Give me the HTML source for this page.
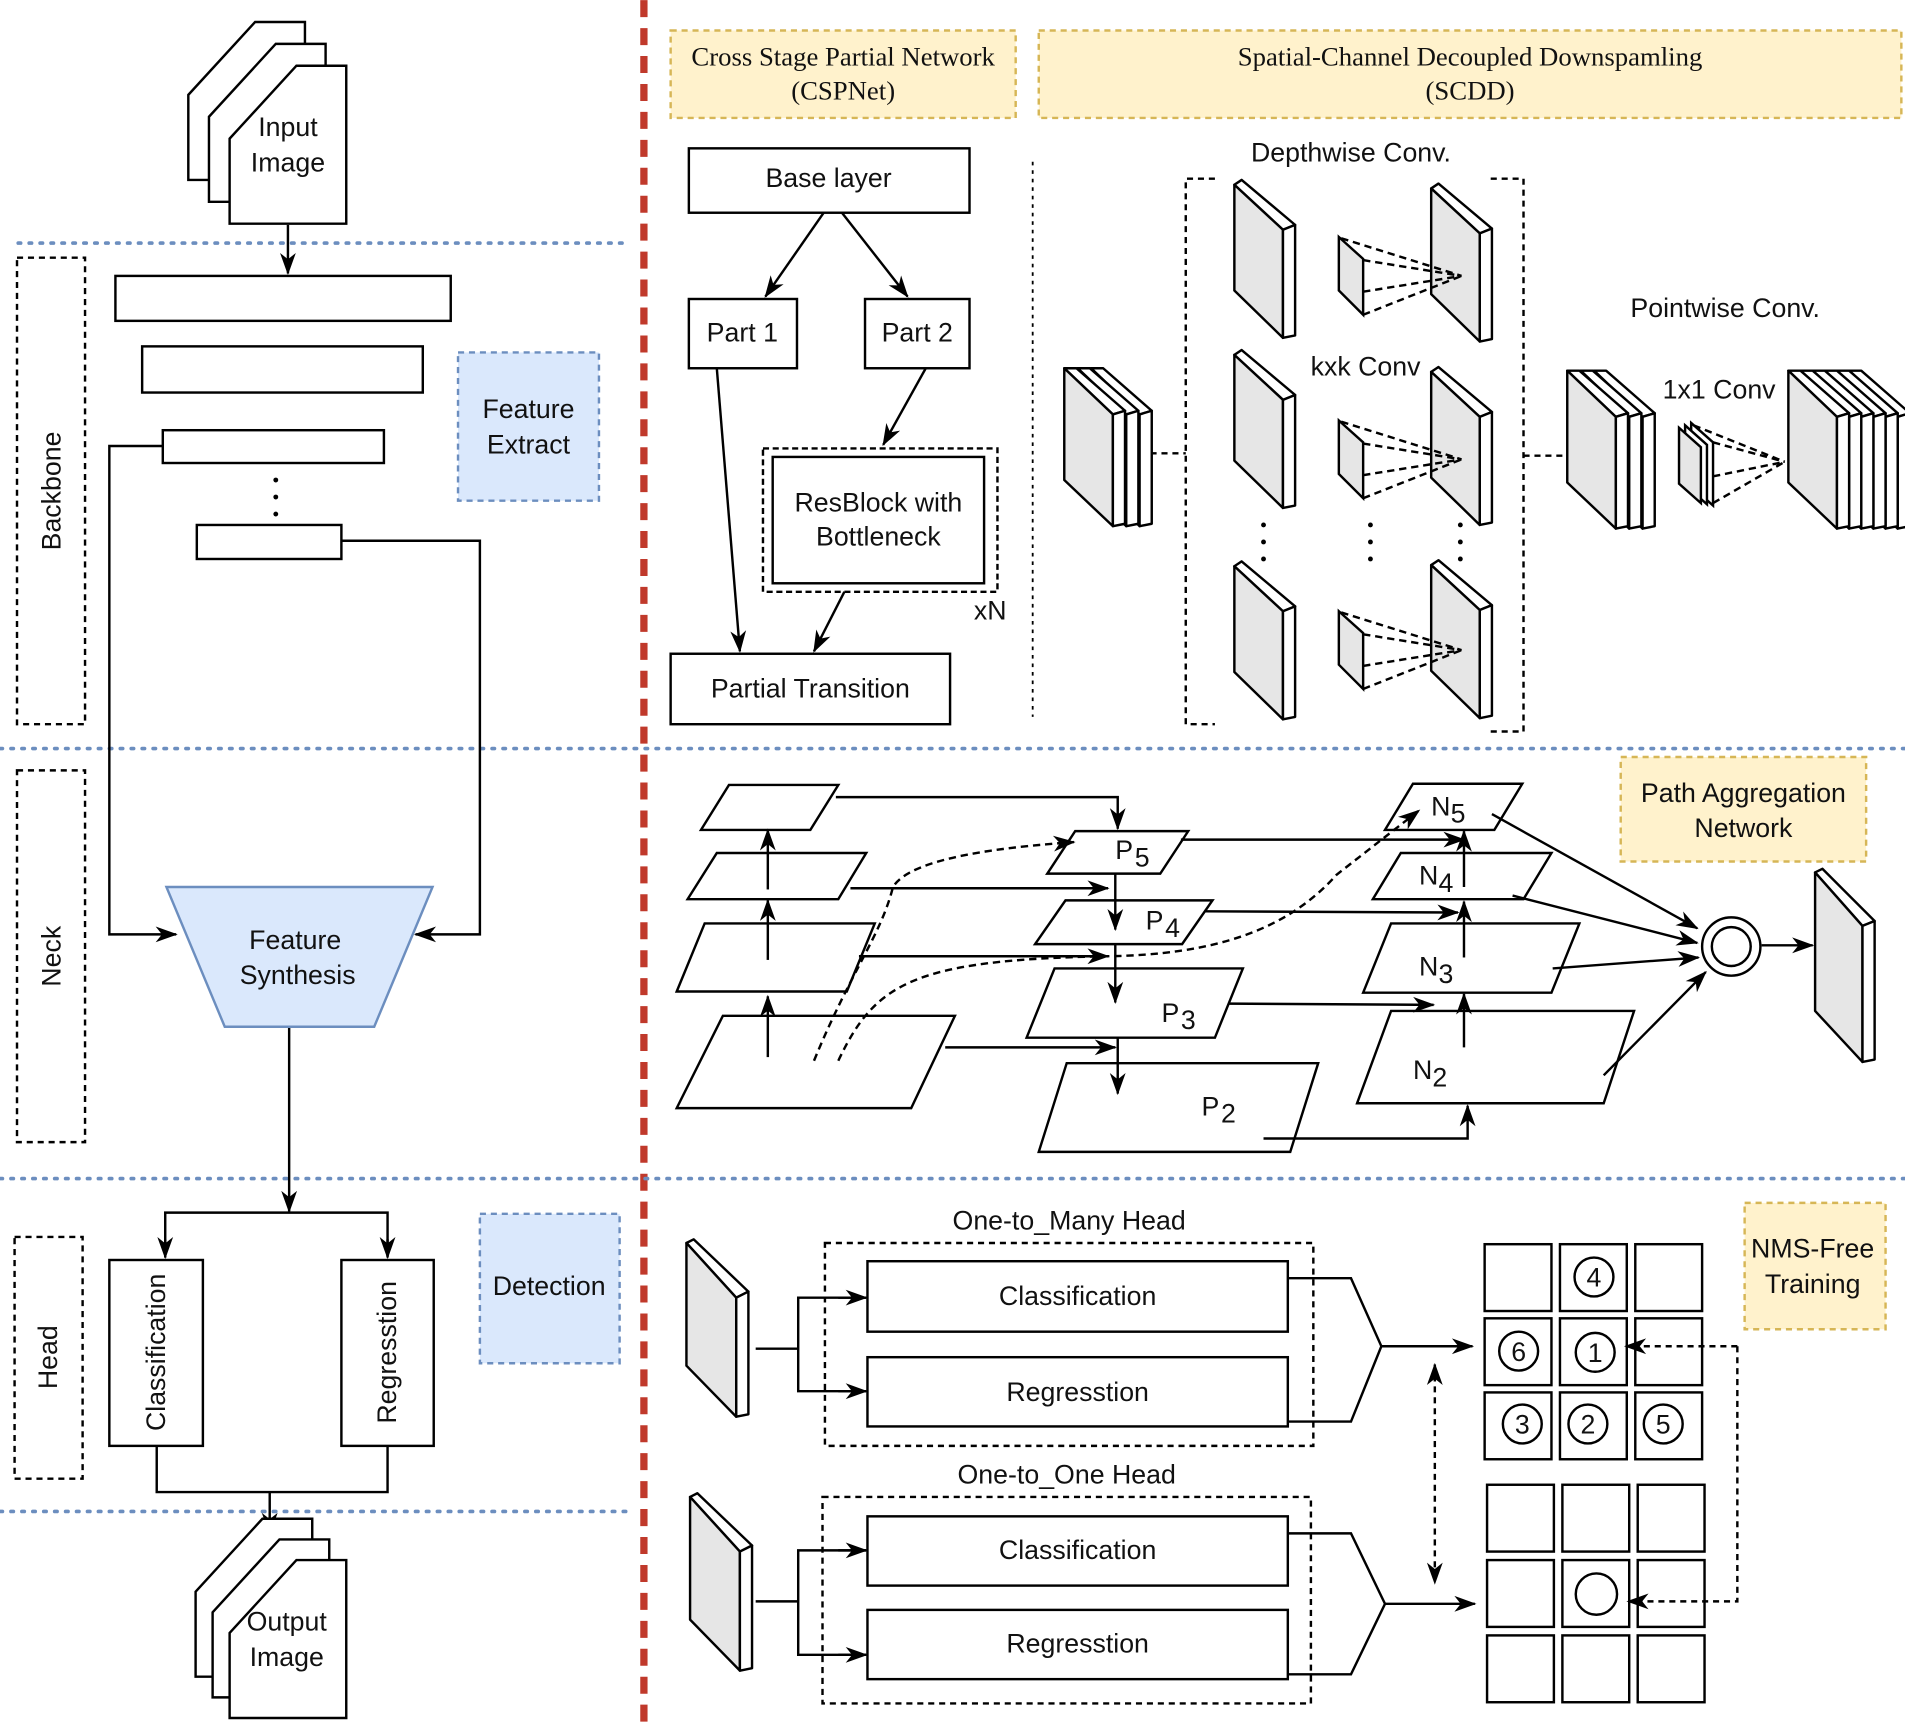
<!DOCTYPE html>
<html><head><meta charset="utf-8"><style>
html,body{margin:0;padding:0;background:#fff}
svg{display:block}
text{font-family:"Liberation Sans",Arial,sans-serif;font-size:22px;fill:#111}
.s{font-family:"Liberation Serif",serif;font-size:22px}
</style></head><body>
<svg width="1905" height="1723" viewBox="0 0 1568 1418" xmlns="http://www.w3.org/2000/svg">
<defs>
<marker id="a" viewBox="0 0 10 10" refX="9" refY="5" markerWidth="13" markerHeight="13" orient="auto" markerUnits="userSpaceOnUse" overflow="visible"><path d="M-4,0 L10,5 L-4,10 L0,5 z" fill="#000"/></marker>
<marker id="as" viewBox="0 0 10 10" refX="9" refY="5" markerWidth="13" markerHeight="13" orient="auto-start-reverse" markerUnits="userSpaceOnUse" overflow="visible"><path d="M-4,0 L10,5 L-4,10 L0,5 z" fill="#000"/></marker>
<g id="pl" stroke="#000" stroke-width="2" stroke-linejoin="round">
<polygon points="0,0 6,-4 50,33 40,37" fill="#fff"/>
<polygon points="0,0 40,37 40,126 0,87" fill="#e6e6e6"/>
<polygon points="40,37 50,33 50,124 40,126" fill="#fff"/>
</g>
<g id="plb" stroke="#000" stroke-width="2" stroke-linejoin="round">
<polygon points="0,0 10,0 50,35 40,38" fill="#fff"/>
<polygon points="0,0 40,38 40,130 0,92" fill="#e6e6e6"/>
<polygon points="40,38 50,35 50,128 40,130" fill="#fff"/>
</g>
<g id="page" stroke="#000" stroke-width="2" fill="#fff"><polygon points="0,60 55,0 96,0 96,130 0,130"/></g>
</defs>

<line x1="530" y1="0" x2="530" y2="1418" stroke="#c0392b" stroke-width="6" stroke-dasharray="14,9"/>
<g stroke="#6c8ebf" stroke-width="3" stroke-dasharray="2,7" stroke-linecap="round">
<line x1="15" y1="200" x2="515" y2="200"/>
<line x1="0" y1="616" x2="1568" y2="616"/>
<line x1="0" y1="970" x2="1568" y2="970"/>
<line x1="0" y1="1244" x2="515" y2="1244"/>
</g>

<use href="#page" x="155" y="18"/><use href="#page" x="172" y="36"/><use href="#page" x="189" y="54"/>
<text x="237" y="112" text-anchor="middle">Input</text><text x="237" y="141" text-anchor="middle">Image</text>
<g fill="none" stroke="#000" stroke-width="2">
<line x1="237" y1="185" x2="237" y2="225" marker-end="url(#a)"/>
<rect x="95" y="227" width="276" height="37" fill="#fff"/>
<rect x="117" y="285" width="231" height="38" fill="#fff"/>
<rect x="134" y="354" width="182" height="27" fill="#fff"/>
<rect x="162" y="432" width="119" height="28" fill="#fff"/>
<polyline points="134,367 90,367 90,769 145,769" marker-end="url(#a)"/>
<polyline points="281,445 395,445 395,769 342,769" marker-end="url(#a)"/>
<line x1="238" y1="845" x2="238" y2="997" marker-end="url(#a)"/>
<polyline points="136,1034 136,998 319,998 319,1034"/>
<line x1="136" y1="1020" x2="136" y2="1035" marker-end="url(#a)"/>
<line x1="319" y1="1020" x2="319" y2="1035" marker-end="url(#a)"/>
<rect x="90" y="1037" width="77" height="153" fill="#fff"/>
<rect x="281" y="1037" width="76" height="153" fill="#fff"/>
<polyline points="129,1190 129,1228 319,1228 319,1190"/>
<line x1="222" y1="1228" x2="222" y2="1262" marker-end="url(#a)"/>
</g>
<g fill="#000"><circle cx="227" cy="395" r="2"/><circle cx="227" cy="409" r="2"/><circle cx="227" cy="423" r="2"/></g>
<g fill="none" stroke="#000" stroke-width="2" stroke-dasharray="5,4">
<rect x="14" y="212" width="56" height="384"/>
<rect x="14" y="634" width="56" height="306"/>
<rect x="12" y="1018" width="56" height="199"/>
</g>
<text transform="translate(50,404) rotate(-90)" text-anchor="middle">Backbone</text>
<text transform="translate(50,787) rotate(-90)" text-anchor="middle">Neck</text>
<text transform="translate(47,1117) rotate(-90)" text-anchor="middle">Head</text>
<rect x="377" y="290" width="116" height="122" fill="#dae8fc" stroke="#6c8ebf" stroke-width="2" stroke-dasharray="5,4"/>
<text x="435" y="344" text-anchor="middle">Feature</text><text x="435" y="373" text-anchor="middle">Extract</text>
<polygon points="137,730 356,730 308,845 185,845" fill="#dae8fc" stroke="#6c8ebf" stroke-width="2"/>
<text x="243" y="781" text-anchor="middle">Feature</text><text x="245" y="810" text-anchor="middle">Synthesis</text>
<rect x="395" y="999" width="115" height="123" fill="#dae8fc" stroke="#6c8ebf" stroke-width="2" stroke-dasharray="5,4"/>
<text x="452" y="1066" text-anchor="middle">Detection</text>
<text transform="translate(136,1113) rotate(-90)" text-anchor="middle">Classification</text>
<text transform="translate(326,1113) rotate(-90)" text-anchor="middle">Regresstion</text>
<use href="#page" x="161" y="1250"/><use href="#page" x="175" y="1267"/><use href="#page" x="189" y="1284"/>
<text x="236" y="1342" text-anchor="middle">Output</text><text x="236" y="1371" text-anchor="middle">Image</text>

<rect x="552" y="25" width="284" height="72" fill="#fff2cc" stroke="#d6b656" stroke-width="2" stroke-dasharray="5,4"/>
<text class="s" x="694" y="54" text-anchor="middle">Cross Stage Partial Network</text>
<text class="s" x="694" y="82" text-anchor="middle">(CSPNet)</text>
<rect x="855" y="25" width="710" height="72" fill="#fff2cc" stroke="#d6b656" stroke-width="2" stroke-dasharray="5,4"/>
<text class="s" x="1210" y="54" text-anchor="middle">Spatial-Channel Decoupled Downspamling</text>
<text class="s" x="1210" y="82" text-anchor="middle">(SCDD)</text>
<g fill="none" stroke="#000" stroke-width="2">
<rect x="567" y="122" width="231" height="53"/>
<rect x="567" y="246" width="89" height="57"/>
<rect x="712" y="246" width="86" height="57"/>
<line x1="678" y1="175" x2="630" y2="244" marker-end="url(#a)"/>
<line x1="693" y1="175" x2="747" y2="244" marker-end="url(#a)"/>
<line x1="762" y1="303" x2="727" y2="366" marker-end="url(#a)"/>
<rect x="628" y="369" width="193" height="118" stroke-dasharray="5,3"/>
<rect x="636" y="376" width="174" height="104"/>
<line x1="590" y1="303" x2="609" y2="536" marker-end="url(#a)"/>
<line x1="695" y1="487" x2="670" y2="536" marker-end="url(#a)"/>
<rect x="552" y="538" width="230" height="58"/>
</g>
<text x="682" y="154" text-anchor="middle">Base layer</text>
<text x="611" y="281" text-anchor="middle">Part 1</text>
<text x="755" y="281" text-anchor="middle">Part 2</text>
<text x="723" y="421" text-anchor="middle">ResBlock with</text>
<text x="723" y="449" text-anchor="middle">Bottleneck</text>
<text x="815" y="510" text-anchor="middle">xN</text>
<text x="667" y="574" text-anchor="middle">Partial Transition</text>
<line x1="850" y1="133" x2="850" y2="590" stroke="#000" stroke-width="1.5" stroke-dasharray="3,4"/>

<text x="1112" y="133" text-anchor="middle">Depthwise Conv.</text>
<g fill="none" stroke="#000" stroke-width="2" stroke-dasharray="5,4">
<polyline points="1000,147 976,147 976,596 1000,596"/>
<polyline points="1227,147 1254,147 1254,602 1227,602"/>
<line x1="947" y1="373" x2="976" y2="373"/>
<line x1="1254" y1="375" x2="1287" y2="375"/>
</g>
<use href="#plb" x="898" y="303"/><use href="#plb" x="887" y="303"/><use href="#plb" x="876" y="303"/>
<use href="#pl" x="1016" y="152"/><use href="#pl" x="1016" y="292"/><use href="#pl" x="1016" y="466"/>
<use href="#pl" x="1178" y="155"/><use href="#pl" x="1178" y="306"/><use href="#pl" x="1178" y="465"/>
<g stroke="#000" stroke-width="2" fill="#e6e6e6">
<polygon points="1102,195 1122,213 1122,259 1102,239"/>
<polygon points="1102,346 1122,364 1122,410 1102,390"/>
<polygon points="1102,503 1122,521 1122,567 1102,547"/>
</g>
<g stroke="#000" stroke-width="2" stroke-dasharray="6,4" fill="none">
<path d="M1104,196 L1203,227 M1122,214 L1203,227 M1122,240 L1203,227 M1122,259 L1203,227"/>
<path d="M1104,347 L1203,378 M1122,365 L1203,378 M1122,391 L1203,378 M1122,410 L1203,378"/>
<path d="M1104,504 L1203,535 M1122,522 L1203,535 M1122,548 L1203,535 M1122,567 L1203,535"/>
</g>
<g fill="#000">
<circle cx="1040" cy="432" r="2"/><circle cx="1040" cy="446" r="2"/><circle cx="1040" cy="460" r="2"/>
<circle cx="1128" cy="432" r="2"/><circle cx="1128" cy="446" r="2"/><circle cx="1128" cy="460" r="2"/>
<circle cx="1202" cy="432" r="2"/><circle cx="1202" cy="446" r="2"/><circle cx="1202" cy="460" r="2"/>
</g>
<text x="1124" y="309" text-anchor="middle">kxk Conv</text>
<text x="1420" y="261" text-anchor="middle">Pointwise Conv.</text>
<text x="1415" y="328" text-anchor="middle">1x1 Conv</text>
<use href="#plb" x="1312" y="305"/><use href="#plb" x="1301" y="305"/><use href="#plb" x="1290" y="305"/>
<g stroke="#000" stroke-width="2" fill="#e6e6e6">
<polygon points="1392,348 1410,364 1410,416 1392,400" fill="#fff"/>
<polygon points="1387,350 1405,366 1405,415 1387,399" fill="#fff"/>
<polygon points="1382,352 1400,368 1400,414 1382,398"/>
</g>
<g stroke="#000" stroke-width="2" stroke-dasharray="6,4" fill="none">
<path d="M1394,350 L1469,380 M1410,364 L1469,380 M1410,392 L1469,380 M1410,414 L1469,380"/>
</g>
<use href="#plb" x="1522" y="305"/><use href="#plb" x="1512" y="305"/><use href="#plb" x="1502" y="305"/><use href="#plb" x="1492" y="305"/><use href="#plb" x="1482" y="305"/><use href="#plb" x="1472" y="305"/>

<g fill="#fff" stroke="#000" stroke-width="2">
<polygon points="577,683 600,646 690,646 667,683"/>
<polygon points="566,740 590,702 713,702 690,740"/>
<polygon points="557,816 580,760 720,760 697,816"/>
<polygon points="557,912 595,836 786,836 750,912"/>
<polygon points="862,719 885,684 978,684 955,719"/>
<polygon points="852,777 877,741 998,741 973,777"/>
<polygon points="845,854 868,797 1023,797 1000,854"/>
<polygon points="855,948 878,875 1085,875 1062,948"/>
<polygon points="1140,683 1163,645 1253,645 1230,683"/>
<polygon points="1130,740 1153,702 1277,702 1254,740"/>
<polygon points="1122,817 1145,760 1300,760 1277,817"/>
<polygon points="1117,908 1145,832 1345,832 1320,908"/>
</g>
<g fill="none" stroke="#000" stroke-width="2">
<line x1="632" y1="870" x2="632" y2="820" marker-end="url(#a)"/>
<line x1="632" y1="790" x2="632" y2="741" marker-end="url(#a)"/>
<line x1="632" y1="732" x2="632" y2="683" marker-end="url(#a)"/>
<polyline points="688,656 920,656 920,682" marker-end="url(#a)"/>
<line x1="700" y1="731" x2="912" y2="731" marker-end="url(#a)"/>
<line x1="707" y1="787" x2="912" y2="787" marker-end="url(#a)"/>
<line x1="778" y1="862" x2="918" y2="862" marker-end="url(#a)"/>
<line x1="918" y1="719" x2="918" y2="765" marker-end="url(#a)"/>
<line x1="918" y1="777" x2="918" y2="825" marker-end="url(#a)"/>
<line x1="920" y1="854" x2="920" y2="900" marker-end="url(#a)"/>
<line x1="972" y1="691" x2="1205" y2="691" marker-end="url(#a)"/>
<line x1="992" y1="750" x2="1200" y2="751" marker-end="url(#a)"/>
<line x1="1012" y1="826" x2="1180" y2="827" marker-end="url(#a)"/>
<polyline points="1040,937 1208,937 1208,910" marker-end="url(#a)"/>
<line x1="1205" y1="862" x2="1205" y2="818" marker-end="url(#a)"/>
<line x1="1205" y1="788" x2="1205" y2="742" marker-end="url(#a)"/>
<line x1="1205" y1="730" x2="1205" y2="684" marker-end="url(#a)"/>
<line x1="1228" y1="670" x2="1397" y2="764" marker-end="url(#a)"/>
<line x1="1245" y1="737" x2="1397" y2="776" marker-end="url(#a)"/>
<line x1="1278" y1="797" x2="1398" y2="788" marker-end="url(#a)"/>
<line x1="1320" y1="885" x2="1404" y2="800" marker-end="url(#a)"/>
<line x1="1450" y1="778" x2="1492" y2="778" marker-end="url(#a)"/>
<circle cx="1425" cy="779" r="24"/><circle cx="1425" cy="779" r="16"/>
</g>
<g fill="none" stroke="#000" stroke-width="2" stroke-dasharray="6,4">
<path d="M670,873 C700,800 725,770 735,730 C750,705 830,697 884,693" marker-end="url(#a)"/>
<path d="M690,873 C720,810 750,790 910,787 C1000,786 1060,765 1100,720 L1168,667" marker-end="url(#a)"/>
</g>
<text x="918" y="707">P</text><text x="934" y="713" font-size="14">5</text>
<text x="943" y="765">P</text><text x="959" y="771" font-size="14">4</text>
<text x="956" y="841">P</text><text x="972" y="847" font-size="14">3</text>
<text x="989" y="918">P</text><text x="1005" y="924" font-size="14">2</text>
<text x="1178" y="671">N</text><text x="1194" y="677" font-size="14">5</text>
<text x="1168" y="728">N</text><text x="1184" y="734" font-size="14">4</text>
<text x="1168" y="803">N</text><text x="1184" y="809" font-size="14">3</text>
<text x="1163" y="888">N</text><text x="1179" y="894" font-size="14">2</text>
<g stroke="#000" stroke-width="2" stroke-linejoin="round">
<polygon points="1494,718 1500,715 1543,758 1533,762" fill="#fff"/>
<polygon points="1494,718 1533,762 1533,874 1494,832" fill="#e6e6e6"/>
<polygon points="1533,762 1543,758 1543,872 1533,874" fill="#fff"/>
</g>
<rect x="1334" y="623" width="202" height="86" fill="#fff2cc" stroke="#d6b656" stroke-width="2" stroke-dasharray="5,4"/>
<text x="1435" y="660" text-anchor="middle">Path Aggregation</text>
<text x="1435" y="689" text-anchor="middle">Network</text>

<text x="880" y="1012" text-anchor="middle">One-to_Many Head</text>
<text x="878" y="1221" text-anchor="middle">One-to_One Head</text>
<g fill="none" stroke="#000" stroke-width="2">
<rect x="679" y="1023" width="402" height="167" stroke-dasharray="5,4"/>
<rect x="677" y="1232" width="402" height="170" stroke-dasharray="5,4"/>
<rect x="714" y="1038" width="346" height="58"/>
<rect x="714" y="1117" width="346" height="57"/>
<rect x="714" y="1248" width="346" height="57"/>
<rect x="714" y="1325" width="346" height="57"/>
<line x1="622" y1="1110" x2="657" y2="1110"/>
<polyline points="713,1068 657,1068 657,1145 713,1145"/>
<line x1="690" y1="1068" x2="713" y2="1068" marker-end="url(#a)"/>
<line x1="690" y1="1145" x2="713" y2="1145" marker-end="url(#a)"/>
<line x1="622" y1="1318" x2="657" y2="1318"/>
<polyline points="713,1276 657,1276 657,1362 713,1362"/>
<line x1="690" y1="1276" x2="713" y2="1276" marker-end="url(#a)"/>
<line x1="690" y1="1362" x2="713" y2="1362" marker-end="url(#a)"/>
<polyline points="1060,1052 1112,1052 1137,1108 1112,1170 1060,1170"/>
<line x1="1137" y1="1108" x2="1212" y2="1108" marker-end="url(#a)"/>
<polyline points="1060,1262 1112,1262 1140,1320 1112,1378 1060,1378"/>
<line x1="1140" y1="1320" x2="1214" y2="1320" marker-end="url(#a)"/>
</g>
<line x1="1181" y1="1123" x2="1181" y2="1303" stroke="#000" stroke-width="2" stroke-dasharray="5,4" marker-start="url(#as)" marker-end="url(#a)"/>
<g stroke="#000" stroke-width="2" stroke-linejoin="round">
<polygon points="565,1023 571,1020 616,1063 606,1068" fill="#fff"/>
<polygon points="565,1023 606,1068 606,1166 565,1124" fill="#e6e6e6"/>
<polygon points="606,1068 616,1063 616,1164 606,1166" fill="#fff"/>
<polygon points="568,1232 574,1229 619,1272 609,1277" fill="#fff"/>
<polygon points="568,1232 609,1277 609,1375 568,1333" fill="#e6e6e6"/>
<polygon points="609,1277 619,1272 619,1373 609,1375" fill="#fff"/>
</g>
<text x="887" y="1074" text-anchor="middle">Classification</text>
<text x="887" y="1153" text-anchor="middle">Regresstion</text>
<text x="887" y="1283" text-anchor="middle">Classification</text>
<text x="887" y="1360" text-anchor="middle">Regresstion</text>
<g fill="#fff" stroke="#000" stroke-width="2">
<rect x="1222" y="1024" width="55" height="55"/><rect x="1284" y="1024" width="55" height="55"/><rect x="1346" y="1024" width="55" height="55"/>
<rect x="1222" y="1085" width="55" height="55"/><rect x="1284" y="1085" width="55" height="55"/><rect x="1346" y="1085" width="55" height="55"/>
<rect x="1222" y="1146" width="55" height="55"/><rect x="1284" y="1146" width="55" height="55"/><rect x="1346" y="1146" width="55" height="55"/>
<rect x="1224" y="1222" width="55" height="55"/><rect x="1286" y="1222" width="55" height="55"/><rect x="1348" y="1222" width="55" height="55"/>
<rect x="1224" y="1284" width="55" height="55"/><rect x="1286" y="1284" width="55" height="55"/><rect x="1348" y="1284" width="55" height="55"/>
<rect x="1224" y="1346" width="55" height="55"/><rect x="1286" y="1346" width="55" height="55"/><rect x="1348" y="1346" width="55" height="55"/>
<circle cx="1312" cy="1051" r="16"/><circle cx="1250" cy="1112" r="16"/><circle cx="1313" cy="1113" r="16"/>
<circle cx="1253" cy="1172" r="16"/><circle cx="1307" cy="1172" r="16"/><circle cx="1369" cy="1172" r="16"/>
<circle cx="1314" cy="1312" r="17"/>
</g>
<text x="1312" y="1059" text-anchor="middle">4</text>
<text x="1250" y="1120" text-anchor="middle">6</text>
<text x="1313" y="1121" text-anchor="middle">1</text>
<text x="1253" y="1180" text-anchor="middle">3</text>
<text x="1307" y="1180" text-anchor="middle">2</text>
<text x="1369" y="1180" text-anchor="middle">5</text>
<g fill="none" stroke="#000" stroke-width="2" stroke-dasharray="5,4">
<polyline points="1430,1108 1430,1318 1340,1318" marker-end="url(#a)"/>
<line x1="1430" y1="1108" x2="1338" y2="1108" marker-end="url(#a)"/>
</g>
<rect x="1436" y="990" width="116" height="104" fill="#fff2cc" stroke="#d6b656" stroke-width="2" stroke-dasharray="5,4"/>
<text x="1492" y="1035" text-anchor="middle">NMS-Free</text>
<text x="1492" y="1064" text-anchor="middle">Training</text>
</svg>
</body></html>
